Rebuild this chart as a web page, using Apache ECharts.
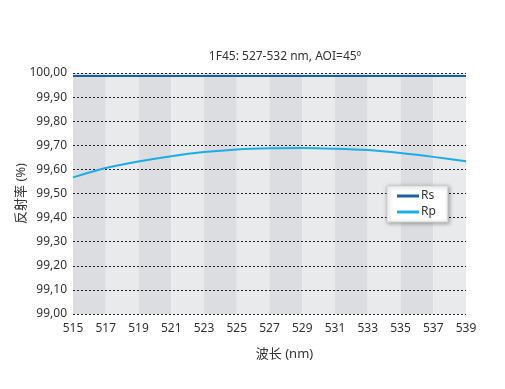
<!DOCTYPE html>
<html>
<head>
<meta charset="utf-8">
<script src="https://cdn.jsdelivr.net/npm/echarts@6/dist/echarts.min.js"></script>
<style>html,body{margin:0;padding:0;background:#fff;}#c{width:505px;height:389px;}</style>
</head>
<body>
<div id="c"></div>
<script>
var wavelengths = ['515','517','519','521','523','525','527','529','531','533','535','537','539'];
var rsValues = [99.988,99.988,99.988,99.988,99.988,99.988,99.988,99.988,99.988,99.988,99.988,99.988,99.988];
var rpValues = [99.567,99.606,99.633,99.655,99.672,99.683,99.688,99.689,99.686,99.680,99.668,99.652,99.634];
var titleText = '1F45: 527-532 nm, AOI=45º';
var yName = '反射率 (%)';
var xName = '波长 (nm)';
var seriesNames = ['Rs', 'Rp'];

var font = '"Noto Sans", "Noto Sans CJK SC", sans-serif';
var chart = echarts.init(document.getElementById('c'), null, {renderer: 'canvas'});
chart.setOption({
  animation: false,
  backgroundColor: '#ffffff',
  textStyle: {fontFamily: font},
  title: {
    text: titleText, left: 280, top: 46, textAlign: 'center',
    textStyle: {fontSize: 12, fontWeight: 'normal', color: '#333', fontFamily: font}
  },
  grid: {left: 73, right: 39, top: 73, bottom: 75},
  legend: {
    data: seriesNames, orient: 'vertical', left: 387, top: 186,
    itemWidth: 22, itemHeight: 3, itemGap: 4, icon: 'rect',
    padding: [4, 12, 4, 10],
    backgroundColor: '#ffffff', borderColor: '#d0d0d0', borderWidth: 1,
    shadowColor: 'rgba(0,0,0,0.35)', shadowBlur: 4, shadowOffsetX: 1, shadowOffsetY: 1,
    textStyle: {fontSize: 12, color: '#333', fontFamily: font, padding: [0,0,0,-3]}
  },
  xAxis: {
    type: 'category', data: wavelengths, boundaryGap: false, z: 0,
    name: xName, nameLocation: 'middle', nameGap: 34, nameMoveOverlap: false,
    nameTextStyle: {fontSize: 13, color: '#333', fontFamily: font, padding: [0,0,0,30]},
    axisLine: {show: false}, axisTick: {show: false},
    axisLabel: {fontSize: 12, color: '#333', margin: 9},
    splitLine: {show: false},
    splitArea: {show: true, areaStyle: {color: ['#dcdde0', '#e9eaec']}}
  },
  yAxis: {
    type: 'value', min: 99, max: 100, interval: 0.1, z: 2,
    name: yName, nameLocation: 'middle', nameGap: 45, nameRotate: 90, nameMoveOverlap: false,
    nameTextStyle: {fontSize: 13, color: '#333', fontFamily: font},
    axisLine: {show: false}, axisTick: {show: false},
    axisLabel: {fontSize: 12, color: '#333', margin: 6,
      formatter: function (v) { return v.toFixed(2).replace('.', ','); }},
    splitLine: {show: true, lineStyle: {type: [2, 2], color: '#222', width: 1}}
  },
  series: [
    {name: seriesNames[0], type: 'line', data: rsValues, symbol: 'none', smooth: 0.3,
     lineStyle: {color: '#1d5fa3', width: 2}, itemStyle: {color: '#1d5fa3'}, z: 5},
    {name: seriesNames[1], type: 'line', data: rpValues, symbol: 'none', smooth: 0.3,
     lineStyle: {color: '#1aade8', width: 2}, itemStyle: {color: '#1aade8'}, z: 5}
  ]
});
</script>
</body>
</html>
